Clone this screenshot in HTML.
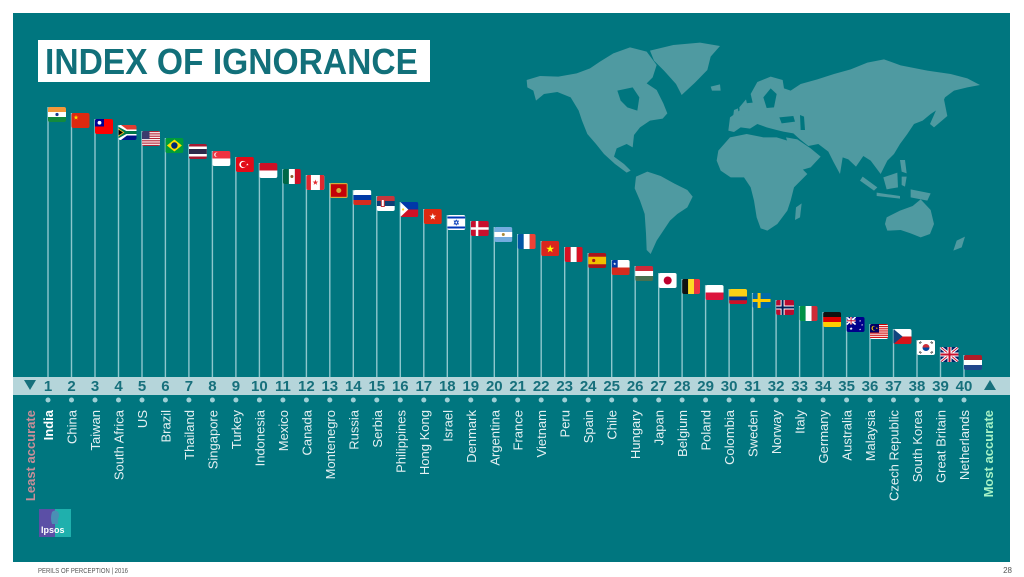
<!DOCTYPE html>
<html><head><meta charset="utf-8"><style>
html,body{margin:0;padding:0;background:#fff;}
svg{display:block;}
text{font-family:"Liberation Sans",sans-serif;}
</style></head><body>
<svg width="1024" height="577" viewBox="0 0 1024 577" xmlns="http://www.w3.org/2000/svg">
<defs>
<clipPath id="fc"><rect x="0" y="0" width="18" height="15" rx="2"/></clipPath>
<path id="star" d="M0,-1L0.225,-0.309L0.951,-0.309L0.363,0.118L0.588,0.809L0,0.382L-0.588,0.809L-0.363,0.118L-0.951,-0.309L-0.225,-0.309Z"/>
<g id="f1" clip-path="url(#fc)"><rect width="18" height="5" fill="#f4983a"/><rect y="5" width="18" height="5" fill="#fff"/><rect y="10" width="18" height="5" fill="#138a3d"/><circle cx="9" cy="7.5" r="1.6" fill="#1a3a8f"/></g>
<g id="f2" clip-path="url(#fc)"><rect width="18" height="15" fill="#de2910"/><use href="#star" transform="translate(4.5,4.5) scale(2.6)" fill="#ffde00"/></g>
<g id="f3" clip-path="url(#fc)"><rect width="18" height="15" fill="#fe0000"/><rect width="9" height="7.5" fill="#000095"/><circle cx="4.5" cy="3.75" r="1.9" fill="#fff"/></g>
<g id="f4" clip-path="url(#fc)"><rect width="18" height="7.5" fill="#e03c31"/><rect y="7.5" width="18" height="7.5" fill="#001489"/><polygon points="0,0 2.5,0 8.5,4.5 18,4.5 18,10.5 8.5,10.5 2.5,15 0,15" fill="#fff"/><polygon points="0,1.8 7.8,6 18,6 18,9 7.8,9 0,13.2" fill="#007749"/><polygon points="0,3.5 6,7.5 0,11.5" fill="#ffb81c"/><polygon points="0,4.6 4.5,7.5 0,10.4" fill="#000"/></g>
<g id="f5" clip-path="url(#fc)"><rect width="18" height="15" fill="#fff"/><g fill="#b22234"><rect y="0" width="18" height="1.15"/><rect y="2.31" width="18" height="1.15"/><rect y="4.62" width="18" height="1.15"/><rect y="6.92" width="18" height="1.15"/><rect y="9.23" width="18" height="1.15"/><rect y="11.54" width="18" height="1.15"/><rect y="13.85" width="18" height="1.15"/></g><rect width="7.5" height="8.1" fill="#3c3b6e"/></g>
<g id="f6" clip-path="url(#fc)"><rect width="18" height="15" fill="#009c3b"/><polygon points="9,1.5 16.5,7.5 9,13.5 1.5,7.5" fill="#ffdf00"/><circle cx="9" cy="7.5" r="3.2" fill="#002776"/></g>
<g id="f7" clip-path="url(#fc)"><rect width="18" height="15" fill="#a51931"/><rect y="2.5" width="18" height="10" fill="#fff"/><rect y="5" width="18" height="5" fill="#2d2a4a"/></g>
<g id="f8" clip-path="url(#fc)"><rect width="18" height="7.5" fill="#ef3340"/><rect y="7.5" width="18" height="7.5" fill="#fff"/><circle cx="4" cy="3.7" r="2.2" fill="#fff"/><circle cx="5" cy="3.7" r="2" fill="#ef3340"/></g>
<g id="f9" clip-path="url(#fc)"><rect width="18" height="15" fill="#e30a17"/><circle cx="7" cy="7.5" r="3.6" fill="#fff"/><circle cx="7.9" cy="7.5" r="2.9" fill="#e30a17"/><use href="#star" transform="translate(11.5,7.5) scale(1.4)" fill="#fff"/></g>
<g id="f10" clip-path="url(#fc)"><rect width="18" height="7.5" fill="#ce1126"/><rect y="7.5" width="18" height="7.5" fill="#fff"/></g>
<g id="f11" clip-path="url(#fc)"><rect width="6" height="15" fill="#006847"/><rect x="6" width="6" height="15" fill="#fff"/><rect x="12" width="6" height="15" fill="#ce1126"/><circle cx="9" cy="7.5" r="1.5" fill="#8c5a2b"/></g>
<g id="f12" clip-path="url(#fc)"><rect width="18" height="15" fill="#fff"/><rect width="4.5" height="15" fill="#e0282e"/><rect x="13.5" width="4.5" height="15" fill="#e0282e"/><use href="#star" transform="translate(9,7.5) scale(3)" fill="#e0282e"/></g>
<g id="f13" clip-path="url(#fc)"><rect width="18" height="15" fill="#d3ae3b"/><rect x="1.2" y="1.2" width="15.6" height="12.6" fill="#c40308"/><circle cx="9" cy="7.5" r="2.5" fill="#d3ae3b"/></g>
<g id="f14" clip-path="url(#fc)"><rect width="18" height="5" fill="#fff"/><rect y="5" width="18" height="5" fill="#0039a6"/><rect y="10" width="18" height="5" fill="#d52b1e"/></g>
<g id="f15" clip-path="url(#fc)"><rect width="18" height="5" fill="#c6363c"/><rect y="5" width="18" height="5" fill="#0c4076"/><rect y="10" width="18" height="5" fill="#fff"/><rect x="4" y="3" width="4" height="8" fill="#c6363c"/><rect x="5" y="4" width="2" height="6" fill="#fff"/></g>
<g id="f16" clip-path="url(#fc)"><rect width="18" height="7.5" fill="#0038a8"/><rect y="7.5" width="18" height="7.5" fill="#ce1126"/><polygon points="0,0 8,7.5 0,15" fill="#fff"/><circle cx="2.8" cy="7.5" r="1.1" fill="#fcd116"/></g>
<g id="f17" clip-path="url(#fc)"><rect width="18" height="15" fill="#de2910"/><use href="#star" transform="translate(9,7.7) scale(3.6)" fill="#fff"/></g>
<g id="f18" clip-path="url(#fc)"><rect width="18" height="15" fill="#fff"/><rect y="1.5" width="18" height="2" fill="#0038b8"/><rect y="11.5" width="18" height="2" fill="#0038b8"/><polygon points="9,5 11.2,9 6.8,9" fill="none" stroke="#0038b8" stroke-width="0.7"/><polygon points="9,10 11.2,6 6.8,6" fill="none" stroke="#0038b8" stroke-width="0.7"/></g>
<g id="f19" clip-path="url(#fc)"><rect width="18" height="15" fill="#c8102e"/><rect x="5" width="2.5" height="15" fill="#fff"/><rect y="6.25" width="18" height="2.5" fill="#fff"/></g>
<g id="f20" clip-path="url(#fc)"><rect width="18" height="15" fill="#74acdf"/><rect y="5" width="18" height="5" fill="#fff"/><circle cx="9" cy="7.5" r="1.5" fill="#a88a3a"/></g>
<g id="f21" clip-path="url(#fc)"><rect width="6" height="15" fill="#0055a4"/><rect x="6" width="6" height="15" fill="#fff"/><rect x="12" width="6" height="15" fill="#ef4135"/></g>
<g id="f22" clip-path="url(#fc)"><rect width="18" height="15" fill="#da251d"/><use href="#star" transform="translate(9,8) scale(4.2)" fill="#ffff00"/></g>
<g id="f23" clip-path="url(#fc)"><rect width="6" height="15" fill="#d91023"/><rect x="6" width="6" height="15" fill="#fff"/><rect x="12" width="6" height="15" fill="#d91023"/></g>
<g id="f24" clip-path="url(#fc)"><rect width="18" height="15" fill="#aa151b"/><rect y="3.75" width="18" height="7.5" fill="#f1bf00"/><circle cx="5.5" cy="7.5" r="1.6" fill="#aa151b"/></g>
<g id="f25" clip-path="url(#fc)"><rect width="18" height="7.5" fill="#fff"/><rect y="7.5" width="18" height="7.5" fill="#d52b1e"/><rect width="6" height="7.5" fill="#0039a6"/><use href="#star" transform="translate(3,3.9) scale(1.6)" fill="#fff"/></g>
<g id="f26" clip-path="url(#fc)"><rect width="18" height="5" fill="#ce2939"/><rect y="5" width="18" height="5" fill="#fff"/><rect y="10" width="18" height="5" fill="#477050"/></g>
<g id="f27" clip-path="url(#fc)"><rect width="18" height="15" fill="#fff"/><circle cx="9" cy="7.5" r="4" fill="#bc002d"/></g>
<g id="f28" clip-path="url(#fc)"><rect width="6" height="15" fill="#111"/><rect x="6" width="6" height="15" fill="#fdda24"/><rect x="12" width="6" height="15" fill="#ef3340"/></g>
<g id="f29" clip-path="url(#fc)"><rect width="18" height="7.5" fill="#fff"/><rect y="7.5" width="18" height="7.5" fill="#dc143c"/></g>
<g id="f30" clip-path="url(#fc)"><rect width="18" height="7.5" fill="#fcd116"/><rect y="7.5" width="18" height="3.75" fill="#003893"/><rect y="11.25" width="18" height="3.75" fill="#ce1126"/></g>
<g id="f31" clip-path="url(#fc)"><rect width="18" height="15" fill="#006aa7"/><rect x="5" width="3" height="15" fill="#fecc00"/><rect y="6" width="18" height="3" fill="#fecc00"/></g>
<g id="f32" clip-path="url(#fc)"><rect width="18" height="15" fill="#ba0c2f"/><rect x="4.5" width="4" height="15" fill="#fff"/><rect y="5.5" width="18" height="4" fill="#fff"/><rect x="5.5" width="2" height="15" fill="#00205b"/><rect y="6.5" width="18" height="2" fill="#00205b"/></g>
<g id="f33" clip-path="url(#fc)"><rect width="6" height="15" fill="#009246"/><rect x="6" width="6" height="15" fill="#fff"/><rect x="12" width="6" height="15" fill="#ce2b37"/></g>
<g id="f34" clip-path="url(#fc)"><rect width="18" height="5" fill="#111"/><rect y="5" width="18" height="5" fill="#dd0000"/><rect y="10" width="18" height="5" fill="#ffce00"/></g>
<g id="f35" clip-path="url(#fc)"><rect width="18" height="15" fill="#00008b"/><path d="M0,0L9,7.5M9,0L0,7.5" stroke="#fff" stroke-width="1.6"/><path d="M4.5,0V7.5M0,3.75H9" stroke="#fff" stroke-width="2.2"/><path d="M4.5,0V7.5M0,3.75H9" stroke="#c8102e" stroke-width="1"/><use href="#star" transform="translate(4.5,11.5) scale(1.8)" fill="#fff"/><use href="#star" transform="translate(13.5,4) scale(1.1)" fill="#fff"/><use href="#star" transform="translate(15.5,8) scale(1.1)" fill="#fff"/><use href="#star" transform="translate(13.5,12.5) scale(1.1)" fill="#fff"/></g>
<g id="f36" clip-path="url(#fc)"><rect width="18" height="15" fill="#fff"/><g fill="#cc0001"><rect y="0" width="18" height="1.07"/><rect y="2.14" width="18" height="1.07"/><rect y="4.28" width="18" height="1.07"/><rect y="6.42" width="18" height="1.07"/><rect y="8.56" width="18" height="1.07"/><rect y="10.7" width="18" height="1.07"/><rect y="12.84" width="18" height="1.07"/></g><rect width="9" height="8.5" fill="#010066"/><circle cx="3.8" cy="4.2" r="2.3" fill="#ffcc00"/><circle cx="4.6" cy="4.2" r="1.9" fill="#010066"/><use href="#star" transform="translate(6.8,4.2) scale(1.2)" fill="#ffcc00"/></g>
<g id="f37" clip-path="url(#fc)"><rect width="18" height="7.5" fill="#fff"/><rect y="7.5" width="18" height="7.5" fill="#d7141a"/><polygon points="0,0 9,7.5 0,15" fill="#11457e"/></g>
<g id="f38" clip-path="url(#fc)"><rect width="18" height="15" fill="#fff"/><path d="M5.5,7.5A3.5,3.5 0 0 1 12.5,7.5Z" fill="#cd2e3a"/><path d="M5.5,7.5A3.5,3.5 0 0 0 12.5,7.5Z" fill="#0047a0"/><path d="M2,3L4,1.5M2.6,3.8L4.6,2.3M14,1.5L16,3M13.4,2.3L15.4,3.8M2,12L4,13.5M2.6,11.2L4.6,12.7M14,13.5L16,12M13.4,12.7L15.4,11.2" stroke="#222" stroke-width="0.6"/></g>
<g id="f39" clip-path="url(#fc)"><rect width="18" height="15" fill="#012169"/><path d="M0,0L18,15M18,0L0,15" stroke="#fff" stroke-width="3"/><path d="M0,0L18,15M18,0L0,15" stroke="#c8102e" stroke-width="1"/><rect x="7" width="4" height="15" fill="#fff"/><rect y="5.5" width="18" height="4" fill="#fff"/><rect x="8" width="2" height="15" fill="#c8102e"/><rect y="6.5" width="18" height="2" fill="#c8102e"/></g>
<g id="f40" clip-path="url(#fc)"><rect width="18" height="5" fill="#ae1c28"/><rect y="5" width="18" height="5" fill="#fff"/><rect y="10" width="18" height="5" fill="#21468b"/></g>
</defs>

<rect width="1024" height="577" fill="#fff"/>
<rect x="13" y="13" width="997" height="549" fill="#00767f"/>

<!-- world map -->
<g transform="translate(500,20) scale(0.33333)" fill="#4f9aa1">
<path d="M80,180 L120,168 L175,170 L230,160 L270,145 L300,125 L340,100 L390,82 L440,95 L470,135 L458,172 L440,190 L470,210 L490,250 L502,280 L488,296 L450,302 L420,322 L402,345 L398,382 L380,372 L350,385 L342,410 L372,432 L392,452 L380,458 L345,432 L312,402 L288,372 L262,342 L246,302 L236,272 L212,232 L172,216 L132,222 L108,242 L100,212 L82,202 Z"/>
<path d="M352,212 L398,202 L418,232 L412,272 L382,262 L362,242 Z" fill="#00767f"/>
<path d="M450,92 L520,75 L600,68 L660,78 L632,110 L622,150 L585,188 L545,225 L528,192 L492,152 L462,122 Z"/>
<path d="M408,470 L442,455 L482,468 L522,490 L562,510 L578,530 L562,562 L532,582 L510,602 L490,632 L470,662 L452,702 L440,690 L438,640 L434,582 L420,542 L404,505 Z"/>
<path d="M685,332 L690,292 L718,272 L735,250 L758,248 L752,222 L772,186 L812,170 L848,180 L852,205 L872,212 L902,192 L952,178 L1002,162 L1052,148 L1102,128 L1152,118 L1202,136 L1282,152 L1352,162 L1402,175 L1440,195 L1402,202 L1362,212 L1335,232 L1322,262 L1292,282 L1268,302 L1242,312 L1222,342 L1200,372 L1182,402 L1162,422 L1142,462 L1112,422 L1090,408 L1068,440 L1045,418 L1028,412 L1020,462 L1000,425 L985,395 L955,372 L925,378 L900,358 L880,340 L850,335 L830,330 L800,322 L772,312 L750,326 L722,322 L702,336 Z"/>
<path d="M790,232 L812,205 L830,222 L822,262 L800,264 Z" fill="#00767f"/>
<path d="M838,292 L880,288 L885,305 L845,310 Z" fill="#00767f"/>
<path d="M900,285 L912,290 L915,330 L902,330 Z" fill="#00767f"/>
<path d="M655,392 L690,352 L740,342 L790,352 L830,352 L862,362 L882,402 L902,442 L922,462 L882,502 L872,542 L862,572 L832,612 L802,632 L782,625 L770,592 L762,542 L752,502 L732,472 L692,472 L662,452 L650,422 Z"/>
<path d="M858,352 L892,358 L932,385 L962,410 L932,442 L898,452 L878,412 Z"/>
<path d="M888,562 L905,550 L900,592 L885,600 Z"/>
<path d="M718,262 L738,238 L748,282 L720,288 Z"/>
<path d="M702,270 L714,265 L716,285 L700,285 Z"/>
<path d="M632,200 L660,193 L662,212 L636,212 Z"/>
<path d="M1312,262 L1332,238 L1342,288 L1302,322 L1290,312 Z"/>
<path d="M1088,470 L1132,502 L1122,512 L1080,482 Z"/>
<path d="M1150,472 L1192,458 L1194,502 L1160,508 Z"/>
<path d="M1130,518 L1200,528 L1200,536 L1130,528 Z"/>
<path d="M1205,470 L1220,470 L1215,500 L1205,495 Z"/>
<path d="M1232,508 L1292,520 L1282,542 L1232,532 Z"/>
<path d="M1200,420 L1215,420 L1220,460 L1205,455 Z"/>
<path d="M1160,592 L1200,572 L1238,558 L1262,538 L1292,570 L1302,612 L1290,642 L1262,652 L1232,640 L1202,630 L1162,632 L1155,612 Z"/>
<path d="M1370,662 L1395,650 L1385,682 L1360,692 Z"/>
</g>

<!-- title -->
<rect x="38" y="40" width="392" height="42" fill="#fff"/>
<text x="45" y="74" font-size="36" font-weight="bold" fill="#12707a" textLength="373" lengthAdjust="spacingAndGlyphs">INDEX OF IGNORANCE</text>

<!-- poles -->
<g stroke="#8ec7cd" stroke-width="1.4">
<line x1="48.0" y1="107" x2="48.0" y2="377"/><line x1="71.5" y1="113" x2="71.5" y2="377"/><line x1="95.0" y1="119" x2="95.0" y2="377"/><line x1="118.5" y1="125" x2="118.5" y2="377"/><line x1="142.0" y1="131" x2="142.0" y2="377"/><line x1="165.4" y1="138" x2="165.4" y2="377"/><line x1="188.9" y1="144" x2="188.9" y2="377"/><line x1="212.4" y1="151" x2="212.4" y2="377"/><line x1="235.9" y1="157" x2="235.9" y2="377"/><line x1="259.4" y1="163" x2="259.4" y2="377"/>
<line x1="282.9" y1="169" x2="282.9" y2="377"/><line x1="306.4" y1="175" x2="306.4" y2="377"/><line x1="329.8" y1="183" x2="329.8" y2="377"/><line x1="353.3" y1="190" x2="353.3" y2="377"/><line x1="376.8" y1="196" x2="376.8" y2="377"/><line x1="400.3" y1="202" x2="400.3" y2="377"/><line x1="423.8" y1="209" x2="423.8" y2="377"/><line x1="447.3" y1="215" x2="447.3" y2="377"/><line x1="470.8" y1="221" x2="470.8" y2="377"/><line x1="494.3" y1="227" x2="494.3" y2="377"/>
<line x1="517.7" y1="234" x2="517.7" y2="377"/><line x1="541.2" y1="241" x2="541.2" y2="377"/><line x1="564.7" y1="247" x2="564.7" y2="377"/><line x1="588.2" y1="253" x2="588.2" y2="377"/><line x1="611.7" y1="260" x2="611.7" y2="377"/><line x1="635.2" y1="266" x2="635.2" y2="377"/><line x1="658.7" y1="273" x2="658.7" y2="377"/><line x1="682.1" y1="279" x2="682.1" y2="377"/><line x1="705.6" y1="285" x2="705.6" y2="377"/><line x1="729.1" y1="289" x2="729.1" y2="377"/>
<line x1="752.6" y1="293" x2="752.6" y2="377"/><line x1="776.1" y1="300" x2="776.1" y2="377"/><line x1="799.6" y1="306" x2="799.6" y2="377"/><line x1="823.1" y1="312" x2="823.1" y2="377"/><line x1="846.6" y1="317" x2="846.6" y2="377"/><line x1="870.0" y1="324" x2="870.0" y2="377"/><line x1="893.5" y1="329" x2="893.5" y2="377"/><line x1="917.0" y1="340" x2="917.0" y2="377"/><line x1="940.5" y1="347" x2="940.5" y2="377"/><line x1="964.0" y1="355" x2="964.0" y2="377"/>
</g>

<!-- flags -->
<use href="#f1" transform="translate(48.0,107)"/><use href="#f2" transform="translate(71.5,113)"/><use href="#f3" transform="translate(95.0,119)"/><use href="#f4" transform="translate(118.5,125)"/><use href="#f5" transform="translate(142.0,131)"/><use href="#f6" transform="translate(165.4,138)"/><use href="#f7" transform="translate(188.9,144)"/><use href="#f8" transform="translate(212.4,151)"/><use href="#f9" transform="translate(235.9,157)"/><use href="#f10" transform="translate(259.4,163)"/>
<use href="#f11" transform="translate(282.9,169)"/><use href="#f12" transform="translate(306.4,175)"/><use href="#f13" transform="translate(329.8,183)"/><use href="#f14" transform="translate(353.3,190)"/><use href="#f15" transform="translate(376.8,196)"/><use href="#f16" transform="translate(400.3,202)"/><use href="#f17" transform="translate(423.8,209)"/><use href="#f18" transform="translate(447.3,215)"/><use href="#f19" transform="translate(470.8,221)"/><use href="#f20" transform="translate(494.3,227)"/>
<use href="#f21" transform="translate(517.7,234)"/><use href="#f22" transform="translate(541.2,241)"/><use href="#f23" transform="translate(564.7,247)"/><use href="#f24" transform="translate(588.2,253)"/><use href="#f25" transform="translate(611.7,260)"/><use href="#f26" transform="translate(635.2,266)"/><use href="#f27" transform="translate(658.7,273)"/><use href="#f28" transform="translate(682.1,279)"/><use href="#f29" transform="translate(705.6,285)"/><use href="#f30" transform="translate(729.1,289)"/>
<use href="#f31" transform="translate(752.6,293)"/><use href="#f32" transform="translate(776.1,300)"/><use href="#f33" transform="translate(799.6,306)"/><use href="#f34" transform="translate(823.1,312)"/><use href="#f35" transform="translate(846.6,317)"/><use href="#f36" transform="translate(870.0,324)"/><use href="#f37" transform="translate(893.5,329)"/><use href="#f38" transform="translate(917.0,340)"/><use href="#f39" transform="translate(940.5,347)"/><use href="#f40" transform="translate(964.0,355)"/>

<!-- bar -->
<rect x="13" y="377" width="997" height="18" fill="#b5d5da"/>
<polygon points="24,380 36,380 30,390" fill="#17707c"/>
<polygon points="984,390 996,390 990,380" fill="#17707c"/>
<g font-size="15" font-weight="bold" fill="#17707c" text-anchor="middle">
<text x="48.0" y="391">1</text><text x="71.5" y="391">2</text><text x="95.0" y="391">3</text><text x="118.5" y="391">4</text><text x="142.0" y="391">5</text><text x="165.4" y="391">6</text><text x="188.9" y="391">7</text><text x="212.4" y="391">8</text><text x="235.9" y="391">9</text><text x="259.4" y="391">10</text>
<text x="282.9" y="391">11</text><text x="306.4" y="391">12</text><text x="329.8" y="391">13</text><text x="353.3" y="391">14</text><text x="376.8" y="391">15</text><text x="400.3" y="391">16</text><text x="423.8" y="391">17</text><text x="447.3" y="391">18</text><text x="470.8" y="391">19</text><text x="494.3" y="391">20</text>
<text x="517.7" y="391">21</text><text x="541.2" y="391">22</text><text x="564.7" y="391">23</text><text x="588.2" y="391">24</text><text x="611.7" y="391">25</text><text x="635.2" y="391">26</text><text x="658.7" y="391">27</text><text x="682.1" y="391">28</text><text x="705.6" y="391">29</text><text x="729.1" y="391">30</text>
<text x="752.6" y="391">31</text><text x="776.1" y="391">32</text><text x="799.6" y="391">33</text><text x="823.1" y="391">34</text><text x="846.6" y="391">35</text><text x="870.0" y="391">36</text><text x="893.5" y="391">37</text><text x="917.0" y="391">38</text><text x="940.5" y="391">39</text><text x="964.0" y="391">40</text>
</g>

<!-- dots -->
<g fill="#9fd0d6">
<circle cx="48.0" cy="400" r="2.5"/><circle cx="71.5" cy="400" r="2.5"/><circle cx="95.0" cy="400" r="2.5"/><circle cx="118.5" cy="400" r="2.5"/><circle cx="142.0" cy="400" r="2.5"/><circle cx="165.4" cy="400" r="2.5"/><circle cx="188.9" cy="400" r="2.5"/><circle cx="212.4" cy="400" r="2.5"/><circle cx="235.9" cy="400" r="2.5"/><circle cx="259.4" cy="400" r="2.5"/>
<circle cx="282.9" cy="400" r="2.5"/><circle cx="306.4" cy="400" r="2.5"/><circle cx="329.8" cy="400" r="2.5"/><circle cx="353.3" cy="400" r="2.5"/><circle cx="376.8" cy="400" r="2.5"/><circle cx="400.3" cy="400" r="2.5"/><circle cx="423.8" cy="400" r="2.5"/><circle cx="447.3" cy="400" r="2.5"/><circle cx="470.8" cy="400" r="2.5"/><circle cx="494.3" cy="400" r="2.5"/>
<circle cx="517.7" cy="400" r="2.5"/><circle cx="541.2" cy="400" r="2.5"/><circle cx="564.7" cy="400" r="2.5"/><circle cx="588.2" cy="400" r="2.5"/><circle cx="611.7" cy="400" r="2.5"/><circle cx="635.2" cy="400" r="2.5"/><circle cx="658.7" cy="400" r="2.5"/><circle cx="682.1" cy="400" r="2.5"/><circle cx="705.6" cy="400" r="2.5"/><circle cx="729.1" cy="400" r="2.5"/>
<circle cx="752.6" cy="400" r="2.5"/><circle cx="776.1" cy="400" r="2.5"/><circle cx="799.6" cy="400" r="2.5"/><circle cx="823.1" cy="400" r="2.5"/><circle cx="846.6" cy="400" r="2.5"/><circle cx="870.0" cy="400" r="2.5"/><circle cx="893.5" cy="400" r="2.5"/><circle cx="917.0" cy="400" r="2.5"/><circle cx="940.5" cy="400" r="2.5"/><circle cx="964.0" cy="400" r="2.5"/>
</g>

<!-- labels -->
<text transform="translate(35,410) rotate(-90)" text-anchor="end" font-size="13" font-weight="bold" fill="#c98e98">Least accurate</text>
<text transform="translate(993,410) rotate(-90)" text-anchor="end" font-size="13" font-weight="bold" fill="#a6f2c6">Most accurate</text>
<g font-size="13" fill="#e4f0f2" text-anchor="end">
<text transform="translate(53.0,410) rotate(-90)" font-weight="bold" fill="#fff">India</text>
<text transform="translate(76.5,410) rotate(-90)">China</text>
<text transform="translate(100.0,410) rotate(-90)">Taiwan</text>
<text transform="translate(123.5,410) rotate(-90)">South Africa</text>
<text transform="translate(147.0,410) rotate(-90)">US</text>
<text transform="translate(170.4,410) rotate(-90)">Brazil</text>
<text transform="translate(193.9,410) rotate(-90)">Thailand</text>
<text transform="translate(217.4,410) rotate(-90)">Singapore</text>
<text transform="translate(240.9,410) rotate(-90)">Turkey</text>
<text transform="translate(264.4,410) rotate(-90)">Indonesia</text>
<text transform="translate(287.9,410) rotate(-90)">Mexico</text>
<text transform="translate(311.4,410) rotate(-90)">Canada</text>
<text transform="translate(334.8,410) rotate(-90)">Montenegro</text>
<text transform="translate(358.3,410) rotate(-90)">Russia</text>
<text transform="translate(381.8,410) rotate(-90)">Serbia</text>
<text transform="translate(405.3,410) rotate(-90)">Philippines</text>
<text transform="translate(428.8,410) rotate(-90)">Hong Kong</text>
<text transform="translate(452.3,410) rotate(-90)">Israel</text>
<text transform="translate(475.8,410) rotate(-90)">Denmark</text>
<text transform="translate(499.3,410) rotate(-90)">Argentina</text>
<text transform="translate(522.7,410) rotate(-90)">France</text>
<text transform="translate(546.2,410) rotate(-90)">Vietnam</text>
<text transform="translate(569.7,410) rotate(-90)">Peru</text>
<text transform="translate(593.2,410) rotate(-90)">Spain</text>
<text transform="translate(616.7,410) rotate(-90)">Chile</text>
<text transform="translate(640.2,410) rotate(-90)">Hungary</text>
<text transform="translate(663.7,410) rotate(-90)">Japan</text>
<text transform="translate(687.1,410) rotate(-90)">Belgium</text>
<text transform="translate(710.6,410) rotate(-90)">Poland</text>
<text transform="translate(734.1,410) rotate(-90)">Colombia</text>
<text transform="translate(757.6,410) rotate(-90)">Sweden</text>
<text transform="translate(781.1,410) rotate(-90)">Norway</text>
<text transform="translate(804.6,410) rotate(-90)">Italy</text>
<text transform="translate(828.1,410) rotate(-90)">Germany</text>
<text transform="translate(851.6,410) rotate(-90)">Australia</text>
<text transform="translate(875.0,410) rotate(-90)">Malaysia</text>
<text transform="translate(898.5,410) rotate(-90)">Czech Republic</text>
<text transform="translate(922.0,410) rotate(-90)">South Korea</text>
<text transform="translate(945.5,410) rotate(-90)">Great Britain</text>
<text transform="translate(969.0,410) rotate(-90)">Netherlands</text>
</g>

<!-- Ipsos logo -->
<rect x="39" y="509" width="16" height="28" fill="#5b4fa6"/>
<rect x="55" y="509" width="16" height="28" fill="#1fb0ad"/>
<path d="M52,512 Q55,509 58,512 Q60,515 58,519 L58,524 L52,524 Q50,518 52,512 Z" fill="#4a8fb5"/>
<text x="41" y="533" font-size="9" font-weight="bold" fill="#fff">Ipsos</text>

<!-- footer -->
<text x="38" y="573" font-size="7.5" fill="#555" textLength="90" lengthAdjust="spacingAndGlyphs">PERILS OF PERCEPTION | 2016</text>
<text x="1012" y="573" font-size="8" fill="#555" text-anchor="end">28</text>
</svg>
</body></html>
